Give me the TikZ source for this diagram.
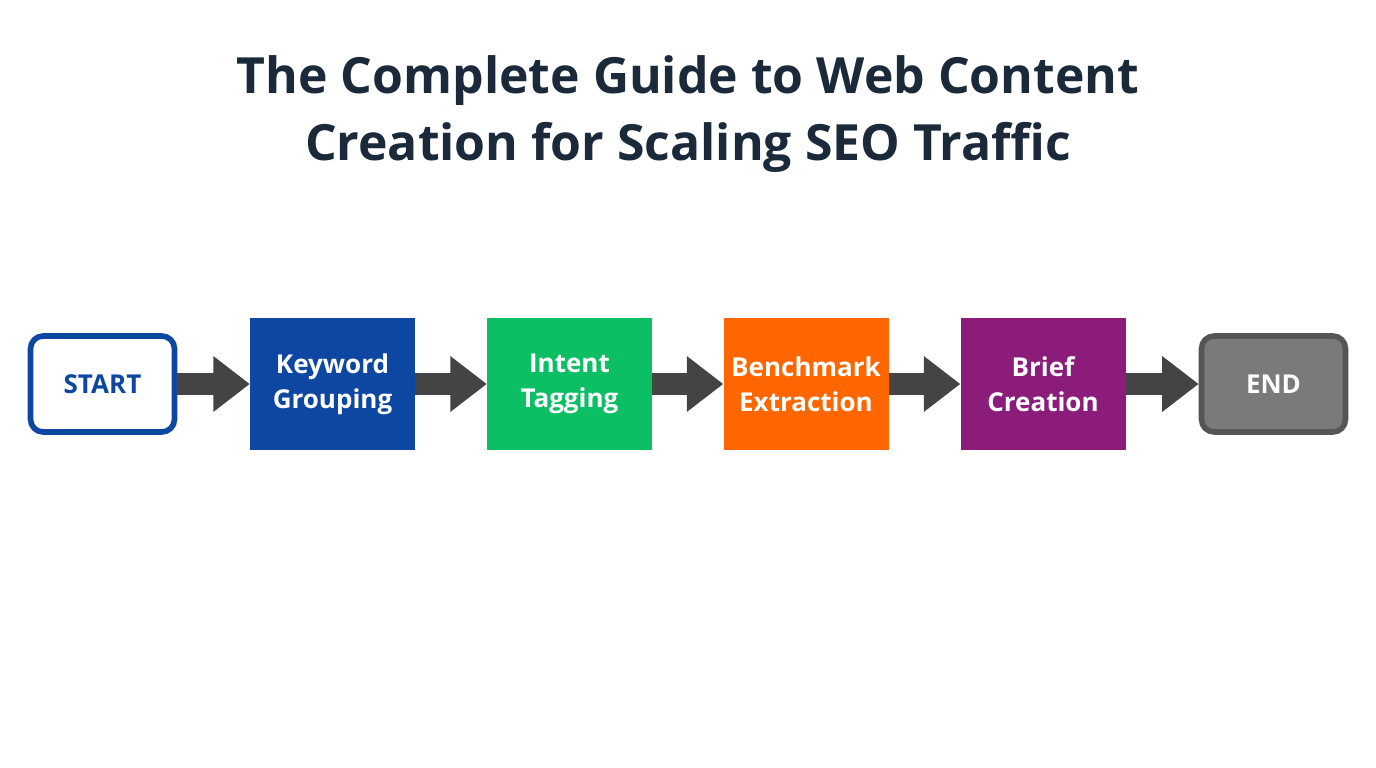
\documentclass[tikz,border=0pt]{standalone}
\usepackage{fontspec}
\setmainfont{Open Sans}
\usetikzlibrary{arrows.meta}
\definecolor{navy}{HTML}{1B2A3A}
\definecolor{kblue}{HTML}{0D47A1}
\definecolor{kgreen}{HTML}{0DBF64}
\definecolor{korange}{HTML}{FF6600}
\definecolor{kpurple}{HTML}{8B1C7A}
\definecolor{kgray}{HTML}{7A7A7A}
\definecolor{kdark}{HTML}{555555}
\definecolor{arr}{HTML}{444444}
\begin{document}
\begin{tikzpicture}[x=0.05cm,y=-0.05cm,
  stepbox/.style={minimum width=165*1.4226pt,minimum height=132*1.4226pt,inner sep=0pt,text=white,font=\fontsize{37}{50}\selectfont\bfseries,align=center},
  endbox/.style={rounded corners=18pt,minimum width=144*1.4226pt,minimum height=96*1.4226pt,line width=8pt,inner sep=0pt,font=\fontsize{37}{44}\selectfont\bfseries},
  flow/.style={arr,line width=31pt,-{Triangle[length=52pt,width=76pt]}}]
\useasboundingbox[fill=white] (0,0) rectangle (1376,768);
\node[font=\fontsize{71}{96}\selectfont\bfseries,text=navy,align=center] (title) at (688,114) {The Complete Guide to Web Content\\Creation for Scaling SEO Traffic};
\node[endbox,draw=kblue,fill=white,text=kblue] (s) at (102.5,384) {START};
\node[stepbox,fill=kblue] (k) at (332.5,384) {Keyword\\Grouping};
\node[stepbox,fill=kgreen] (i) at (569.5,384) {Intent\\Tagging};
\node[stepbox,fill=korange] (b) at (806,384) {Benchmark\\Extraction};
\node[stepbox,fill=kpurple] (c) at (1043,384) {Brief\\Creation};
\node[endbox,draw=kdark,fill=kgray,text=white] (e) at (1273.5,384) {END};
\foreach \a/\b in {s/k,k/i,i/b,b/c,c/e} \draw[flow] (\a.east) -- (\b.west);
\end{tikzpicture}
\end{document}
